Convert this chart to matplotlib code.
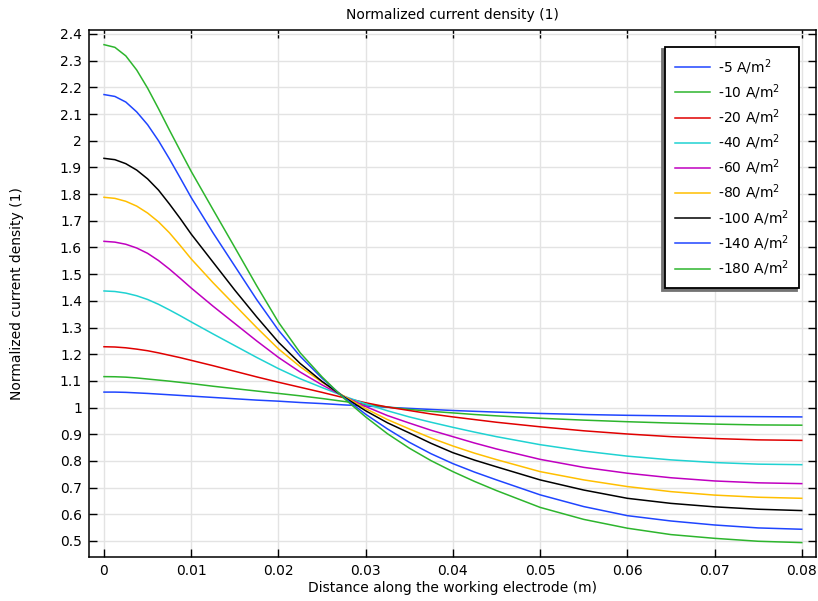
import numpy as np
import matplotlib
matplotlib.use('Agg')
import matplotlib.pyplot as plt
from matplotlib.ticker import FixedLocator, FuncFormatter

# distance along the working electrode (m)
x = [0, 0.00125, 0.0025, 0.00375, 0.005, 0.00625, 0.0075, 0.00875, 0.01,
     0.0125, 0.015, 0.0175, 0.02, 0.0225, 0.025, 0.0275, 0.03, 0.0325,
     0.035, 0.0375, 0.04, 0.0425, 0.045, 0.05, 0.055, 0.06, 0.065, 0.07,
     0.075, 0.08]

labels = ['-5 A/m$^2$', '-10 A/m$^2$', '-20 A/m$^2$', '-40 A/m$^2$', '-60 A/m$^2$',
          '-80 A/m$^2$', '-100 A/m$^2$', '-140 A/m$^2$', '-180 A/m$^2$']

# normalized current density
j_5 = [1.058, 1.058, 1.057, 1.055, 1.053, 1.0505, 1.048, 1.0455, 1.043,
       1.038, 1.033, 1.028, 1.024, 1.019, 1.015, 1.010, 1.006, 1.001,
       0.997, 0.993, 0.989, 0.986, 0.983, 0.978, 0.974, 0.971, 0.969, 0.967,
       0.966, 0.965]
j_10 = [1.116, 1.1155, 1.114, 1.111, 1.107, 1.103, 1.099, 1.0945, 1.090,
        1.080, 1.071, 1.062, 1.053, 1.044, 1.034, 1.023, 1.012, 1.002,
        0.993, 0.986, 0.980, 0.974, 0.969, 0.960, 0.953, 0.947, 0.942, 0.938,
        0.935, 0.934]
j_20 = [1.228, 1.227, 1.224, 1.219, 1.213, 1.205, 1.196, 1.187, 1.177,
        1.157, 1.136, 1.115, 1.095, 1.076, 1.057, 1.037, 1.018, 1.002,
        0.989, 0.976, 0.965, 0.955, 0.945, 0.928, 0.913, 0.901, 0.891, 0.884,
        0.879, 0.877]
j_40 = [1.437, 1.435, 1.429, 1.419, 1.405, 1.387, 1.366, 1.344, 1.321,
        1.276, 1.232, 1.188, 1.146, 1.108, 1.075, 1.043, 1.014, 0.988,
        0.965, 0.945, 0.926, 0.908, 0.891, 0.861, 0.837, 0.818, 0.804, 0.794,
        0.788, 0.786]
j_60 = [1.623, 1.620, 1.612, 1.598, 1.578, 1.551, 1.519, 1.484, 1.448,
        1.380, 1.315, 1.250, 1.188, 1.133, 1.085, 1.042, 1.004, 0.970,
        0.942, 0.915, 0.891, 0.867, 0.845, 0.806, 0.776, 0.754, 0.737, 0.725,
        0.718, 0.715]
j_80 = [1.788, 1.784, 1.773, 1.755, 1.729, 1.696, 1.655, 1.607, 1.557,
        1.468, 1.384, 1.300, 1.220, 1.153, 1.095, 1.043, 0.996, 0.955,
        0.920, 0.886, 0.856, 0.829, 0.805, 0.760, 0.729, 0.704, 0.685, 0.672,
        0.664, 0.660]
j_100 = [1.934, 1.929, 1.914, 1.890, 1.857, 1.815, 1.763, 1.708, 1.650,
         1.545, 1.440, 1.340, 1.245, 1.165, 1.098, 1.040, 0.988, 0.943,
         0.905, 0.866, 0.831, 0.803, 0.778, 0.729, 0.691, 0.660, 0.641, 0.628,
         0.619, 0.614]
j_140 = [2.173, 2.166, 2.145, 2.108, 2.060, 2.000, 1.932, 1.860, 1.787,
         1.655, 1.530, 1.405, 1.290, 1.192, 1.110, 1.038, 0.975, 0.920,
         0.870, 0.827, 0.790, 0.758, 0.729, 0.673, 0.629, 0.595, 0.575, 0.560,
         0.549, 0.544]
j_180 = [2.360, 2.350, 2.318, 2.265, 2.197, 2.120, 2.040, 1.962, 1.885,
         1.742, 1.600, 1.457, 1.320, 1.205, 1.115, 1.035, 0.965, 0.902,
         0.848, 0.801, 0.760, 0.723, 0.689, 0.626, 0.581, 0.548, 0.524, 0.510,
         0.499, 0.494]

series = [j_5, j_10, j_20, j_40, j_60, j_80, j_100, j_140, j_180]
colors = ['#1f45ff', '#2db52d', '#e00000', '#1fd2d2', '#c000c0',
          '#ffbf00', '#000000', '#1f45ff', '#2db52d']

xticks = [0, 0.01, 0.02, 0.03, 0.04, 0.05, 0.06, 0.07, 0.08]
yticks = [0.5, 0.6, 0.7, 0.8, 0.9, 1.0, 1.1, 1.2, 1.3, 1.4, 1.5, 1.6, 1.7,
          1.8, 1.9, 2.0, 2.1, 2.2, 2.3, 2.4]

fig = plt.figure(figsize=(8.18, 6.01), dpi=100)
ax = fig.add_axes([0.1088, 0.0732, 0.8888, 0.8769])

for y, c, lab in zip(series, colors, labels):
    ax.plot(x, y, color=c, lw=1.1, label=lab)

ax.set_xlim(-0.00172, 0.08164)
ax.set_ylim(0.44, 2.415)
ax.xaxis.set_major_locator(FixedLocator(xticks))
ax.yaxis.set_major_locator(FixedLocator(yticks))
fmt = FuncFormatter(lambda v, p: '%g' % round(v, 3))
ax.xaxis.set_major_formatter(fmt)
ax.yaxis.set_major_formatter(fmt)
ax.tick_params(direction='in', length=5.5, width=1, top=True, right=True,
               labelsize=10, pad=5)
ax.grid(True, color='#e3e3e3', lw=1)
ax.set_axisbelow(True)
for s in ax.spines.values():
    s.set_linewidth(1.1)

ax.set_title('Normalized current density (1)', fontsize=10, pad=8)
ax.set_xlabel('Distance along the working electrode (m)', fontsize=10)
ax.set_ylabel('Normalized current density (1)', fontsize=10)
ax.xaxis.set_label_coords(0.5, -0.046)
ax.yaxis.set_label_coords(-0.09, 0.5)

leg = ax.legend(loc='upper right', fontsize=10, frameon=True, fancybox=False,
                framealpha=1, edgecolor='black', borderaxespad=1.2,
                handlelength=2.5, handletextpad=0.6, labelspacing=0.40,
                borderpad=0.75,
                shadow={'ox': -2, 'oy': -2, 'color': '0.45', 'alpha': 1})
leg.get_frame().set_linewidth(1.3)

fig.savefig('out.png', dpi=100)
